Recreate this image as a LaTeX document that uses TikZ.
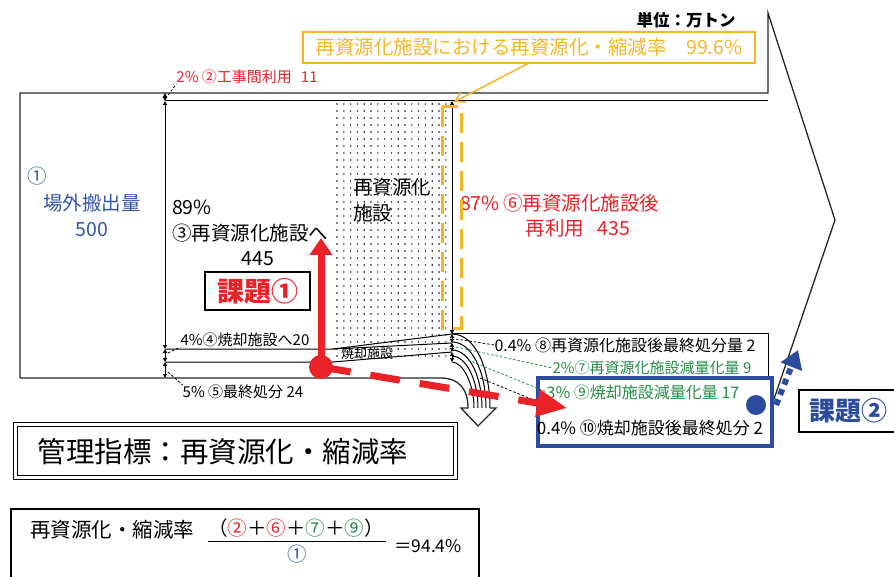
\documentclass[tikz,border=0pt]{standalone}
\usepackage{fontspec}
\setmainfont{Noto Sans CJK JP}
\usetikzlibrary{arrows.meta}
\definecolor{myred}{RGB}{234,33,39}
\definecolor{mygreen}{RGB}{38,140,70}
\definecolor{mytblue}{RGB}{52,84,166}
\definecolor{bboxc}{RGB}{46,76,158}
\definecolor{ylw}{RGB}{244,182,36}
\newcommand{\myfs}[1]{\fontsize{#1}{#1}\selectfont}
\tikzset{
  lbl/.style={inner sep=0pt, outer sep=0pt},
  outerln/.style={line width=1.3pt, draw=black!85},
  innerln/.style={line width=1pt, draw=black},
  dimarr/.style={line width=0.7pt, {Latex[length=4pt,width=5pt]}-{Latex[length=4pt,width=5pt]}},
  leader/.style={line width=0.8pt, dash pattern=on 2.5pt off 2pt},
}
\begin{document}
\begin{tikzpicture}[x=1pt,y=-1pt]
\useasboundingbox (0,0) rectangle (894,577);
% stipple of the recycling facility
\foreach \i in {0,...,16}{\foreach \j in {0,...,36}{\fill (337+\i*6.8,104+\j*7) circle[radius=0.8];}}
% outer arrow outline
\draw[outerln] (20,378) -- (20,93) -- (768,93) -- (768,13) -- (835,220) -- (773,402);
\draw[outerln] (20,378) -- (440,378) .. controls (460,378) and (468,390) .. (468,408) -- (461,408) -- (478,426) -- (496,408) -- (490,408);
% inner lines
\draw[innerln] (165,101) -- (768,101);
\draw[innerln] (165,349) -- (333,349) -- (452,334);
\draw[innerln] (333,349) -- (452,343);
\draw[innerln] (165,362) -- (333,362) -- (452,352);
\draw[innerln] (452,333) -- (768,333) -- (768,382);
% shaft curves
\draw[innerln] (452,334) .. controls (476,334) and (490,370) .. (490,408);
\draw[innerln] (452,342) .. controls (472,342) and (486,372) .. (486,408);
\draw[innerln] (452,350) .. controls (469,350) and (482,376) .. (482,408);
\draw[innerln] (452,356) .. controls (466,356) and (478,380) .. (478,408);
\draw[innerln] (452,362) .. controls (463,362) and (474,384) .. (474,408);
% dimension markers
\draw[dimarr] (165,93) -- (165,101);
\draw[dimarr] (165,101) -- (165,349);
\draw[dimarr] (165,349) -- (165,362);
\draw[dimarr] (165,362) -- (165,378);
\draw[dimarr] (452,101) -- (452,334);
\draw[dimarr] (452,334) -- (452,343);
\draw[dimarr] (452,343) -- (452,352);
\draw[dimarr] (452,352) -- (452,362);
% coordinates for leaders
\coordinate (c2) at (168,95);
\coordinate (c4) at (168,353);
\coordinate (c5) at (168,372);
\coordinate (c8) at (456,339);
\coordinate (c7) at (456,347);
\coordinate (c9) at (468,360);
\coordinate (c10) at (480,378);
\coordinate (e10) at (541,403);
% labels
\node[lbl, text=mytblue, font=\myfs{19.5}] (n1) at (37,176) {①};
\node[lbl, text=mytblue, font=\myfs{19.5}] (n1b) at (92,203) {場外搬出量};
\node[lbl, text=mytblue, font=\myfs{19.5}] (n1c) at (92,230) {500};
\node[lbl, anchor=west, font=\myfs{19.5}] (n3a) at (172,207) {89\%};
\node[lbl, anchor=west, font=\myfs{19.5}] (n3b) at (172,233) {③再資源化施設へ};
\node[lbl, font=\myfs{19.5}] (n3c) at (258,259) {445};
\node[lbl, anchor=west, font=\myfs{19.5}] (fa) at (353,187) {再資源化};
\node[lbl, anchor=west, font=\myfs{19.5}] (fb) at (353,213) {施設};
\node[lbl, font=\myfs{13}] (inc) at (367,354) {焼却施設};
\node[lbl, anchor=west, text=myred, font=\myfs{19.5}] (n6a) at (460,203) {87\%};
\node[lbl, anchor=west, text=myred, font=\myfs{19.5}] (n6b) at (503,203) {⑥再資源化施設後};
\node[lbl, text=myred, font=\myfs{19.5}] (n6c) at (578,228) {再利用\hspace{0.7em}435};
\node[lbl, font=\bfseries\myfs{16.5}] (unit) at (686,20) {単位：万トン};
\node[lbl, text=myred, font=\myfs{15}] (l2) at (247,77) {2\% ②工事間利用\hspace{0.6em}11};
\node[lbl, font=\myfs{15}] (l4) at (245,340) {4\%④焼却施設へ20};
\node[lbl, font=\myfs{15}] (l5) at (243,392) {5\% ⑤最終処分 24};
\node[lbl, font=\myfs{16}] (l8) at (625,345) {0.4\% ⑧再資源化施設後最終処分量 2};
\node[lbl, text=mygreen, font=\myfs{15}] (l7) at (652,368) {2\%⑦再資源化施設減量化量 9};
\draw[leader] (c2) -- (l2.south west);
\draw[leader] (c4) -- (l4.south west);
\draw[leader] (c5) -- (l5.north west);
\draw[leader] (c8) -- (l8.west);
\draw[leader, mygreen] (c7) -- (l7.west);
% yellow
\draw[ylw, line width=3pt, dash pattern=on 20pt off 9pt] (442,107) rectangle (461,328);
\node[lbl, draw=ylw, line width=1.5pt, text=ylw, minimum width=452pt, minimum height=31pt, font=\myfs{19.5}] (ybox) at (529,47.5) {再資源化施設における再資源化・縮減率\hspace{1em}99.6\%};
\coordinate (ytip) at (454,102);
\draw[ylw, line width=1.5pt, -{Straight Barb[length=9pt,width=11pt]}] (ybox.south) -- (ytip);
% blue box
\node[lbl, draw=bboxc, line width=3.5pt, fill=white, minimum width=234pt, minimum height=68pt] (bbox) at (655,412) {};
\node[lbl, text=mygreen, font=\myfs{16}] (l9) at (643,392) {3\% ⑨焼却施設減量化量 17};
\node[lbl, font=\myfs{17}] (l10) at (650,428) {0.4\% ⑩焼却施設後最終処分 2};
\draw[leader, mygreen] (c9) -- (l9.west);
\draw[leader] (c10) -- (e10);
\node[circle, fill=bboxc, minimum size=20pt, inner sep=0pt] (bdot) at (756,405) {};
\coordinate (bst) at (776,405);
\coordinate (bend) at (798,350);
\draw[bboxc, line width=6pt, dash pattern=on 6pt off 5pt, -{Triangle[length=18pt,width=22pt]}] (bst) -- (bend);
\node[draw, line width=1.5pt, anchor=west, minimum height=42pt, inner xsep=11pt, text=bboxc, font=\bfseries\myfs{26}] (k2) at (798,411) {課題②};
% red arrows
\node[circle, fill=myred, minimum size=24pt, inner sep=0pt] (rc) at (321,367) {};
\coordinate (rtip) at (321,238);
\coordinate (rdend) at (567,408);
\draw[myred, line width=7pt, dash pattern=on 30pt off 20pt, -{Triangle[length=30pt,width=26pt]}] (rc.center) -- (rdend);
\draw[myred, line width=7pt, -{Triangle[length=17pt,width=22pt]}] (rc.center) -- (rtip);
\node[draw, line width=1.5pt, minimum width=105pt, minimum height=38pt, inner sep=0pt, text=myred, font=\bfseries\myfs{27}] (k1) at (257.5,291) {課題①};
% management index
\node[draw, double, double distance=2.5pt, line width=1.3pt, minimum width=440pt, minimum height=53pt, inner sep=0pt] (mbox) at (235.5,451) {};
\node[lbl, font=\myfs{28.5}] (mtitle) at (223,452) {管理指標：再資源化・縮減率};
\node[draw, line width=1.5pt, anchor=north west, minimum width=468pt, minimum height=92pt, inner sep=0pt] (fbox) at (10,508) {};
\node[lbl, anchor=west, font=\myfs{20.5}] (ftxt) at (30,530) {再資源化・縮減率};
\node[lbl, font=\myfs{19.5}] (fnum) at (296,528) {（\textcolor{myred}{②}＋\textcolor{myred}{⑥}＋\textcolor{mygreen}{⑦}＋\textcolor{mygreen}{⑨}）};
\draw[line width=1pt] (208,541) -- (386,541);
\node[lbl, text=mytblue, font=\myfs{19.5}] (fden) at (297,554) {①};
\node[lbl, font=\myfs{17.5}] (fres) at (428,546) {＝94.4\%};
\end{tikzpicture}
\end{document}
